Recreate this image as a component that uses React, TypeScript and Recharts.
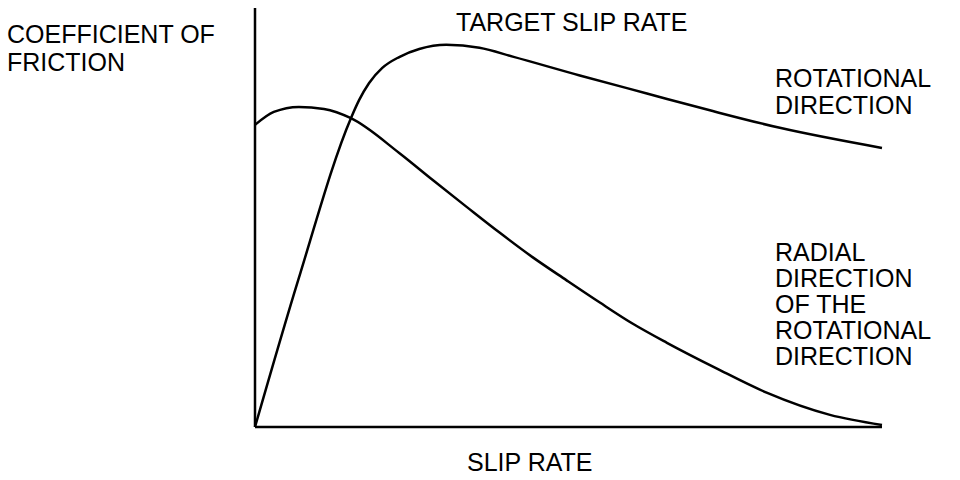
import React from "react";
import { Line, LineChart, ReferenceLine, XAxis, YAxis } from "recharts";

// slip rate (0-100) vs coefficient of friction (0-100)
const rotationalSlip = [0, 6.9, 15.3, 16.6, 18.2, 20.3, 23.0, 26.2, 30.5, 35.8, 41.1, 51.8, 62.5, 73.0, 83.7, 100];
const rotationalFriction = [0, 35.1, 73.7, 78.0, 82.1, 85.7, 88.3, 90.2, 91.2, 90.5, 88.4, 83.9, 79.6, 75.4, 71.4, 66.6];

const radialSlip = [0, 3.0, 7.0, 11.0, 15.3, 23.0, 28.3, 33.7, 39.0, 44.2, 49.7, 55.0, 60.2, 65.7, 73.6, 81.6, 91.7, 100];
const radialFriction = [72.1, 75.2, 76.4, 75.9, 73.7, 65.4, 59.0, 52.6, 46.4, 40.6, 35.0, 29.7, 24.7, 20.1, 14.0, 8.2, 2.9, 0.5];

const rotationalData = rotationalSlip.map((x, i) => ({ x, y: rotationalFriction[i] }));
const radialData = radialSlip.map((x, i) => ({ x, y: radialFriction[i] }));

const font = "'Liberation Sans', Arial, sans-serif";

const txt = (top: number, left: number, lineHeight: number): React.CSSProperties => ({
  position: "absolute",
  top,
  left,
  fontFamily: font,
  fontSize: 25,
  lineHeight: `${lineHeight}px`,
  color: "#000",
  whiteSpace: "nowrap",
});

export default function App() {
  return (
    <div style={{ position: "absolute", left: 0, top: 0, width: 960, height: 480, background: "#fff" }}>
      <LineChart width={960} height={480} margin={{ top: 8, right: 78, bottom: 53, left: 255 }}>
        <XAxis type="number" dataKey="x" domain={[0, 100]} hide />
        <YAxis type="number" dataKey="y" domain={[0, 100]} hide />
        <ReferenceLine x={0} stroke="#000" strokeWidth={2.5} />
        <ReferenceLine y={0} stroke="#000" strokeWidth={2.5} />
        <Line
          data={rotationalData}
          dataKey="y"
          type="monotone"
          stroke="#000"
          strokeWidth={2.5}
          dot={false}
          isAnimationActive={false}
        />
        <Line
          data={radialData}
          dataKey="y"
          type="monotone"
          stroke="#000"
          strokeWidth={2.5}
          dot={false}
          isAnimationActive={false}
        />
      </LineChart>
      <div style={txt(20, 7, 28)}>
        COEFFICIENT OF
        <br />
        FRICTION
      </div>
      <div style={txt(9, 456, 26)}>TARGET SLIP RATE</div>
      <div style={txt(65, 775, 27)}>
        ROTATIONAL
        <br />
        DIRECTION
      </div>
      <div style={txt(239, 775, 26)}>
        RADIAL
        <br />
        DIRECTION
        <br />
        OF THE
        <br />
        ROTATIONAL
        <br />
        DIRECTION
      </div>
      <div style={txt(449, 467, 26)}>SLIP RATE</div>
    </div>
  );
}
